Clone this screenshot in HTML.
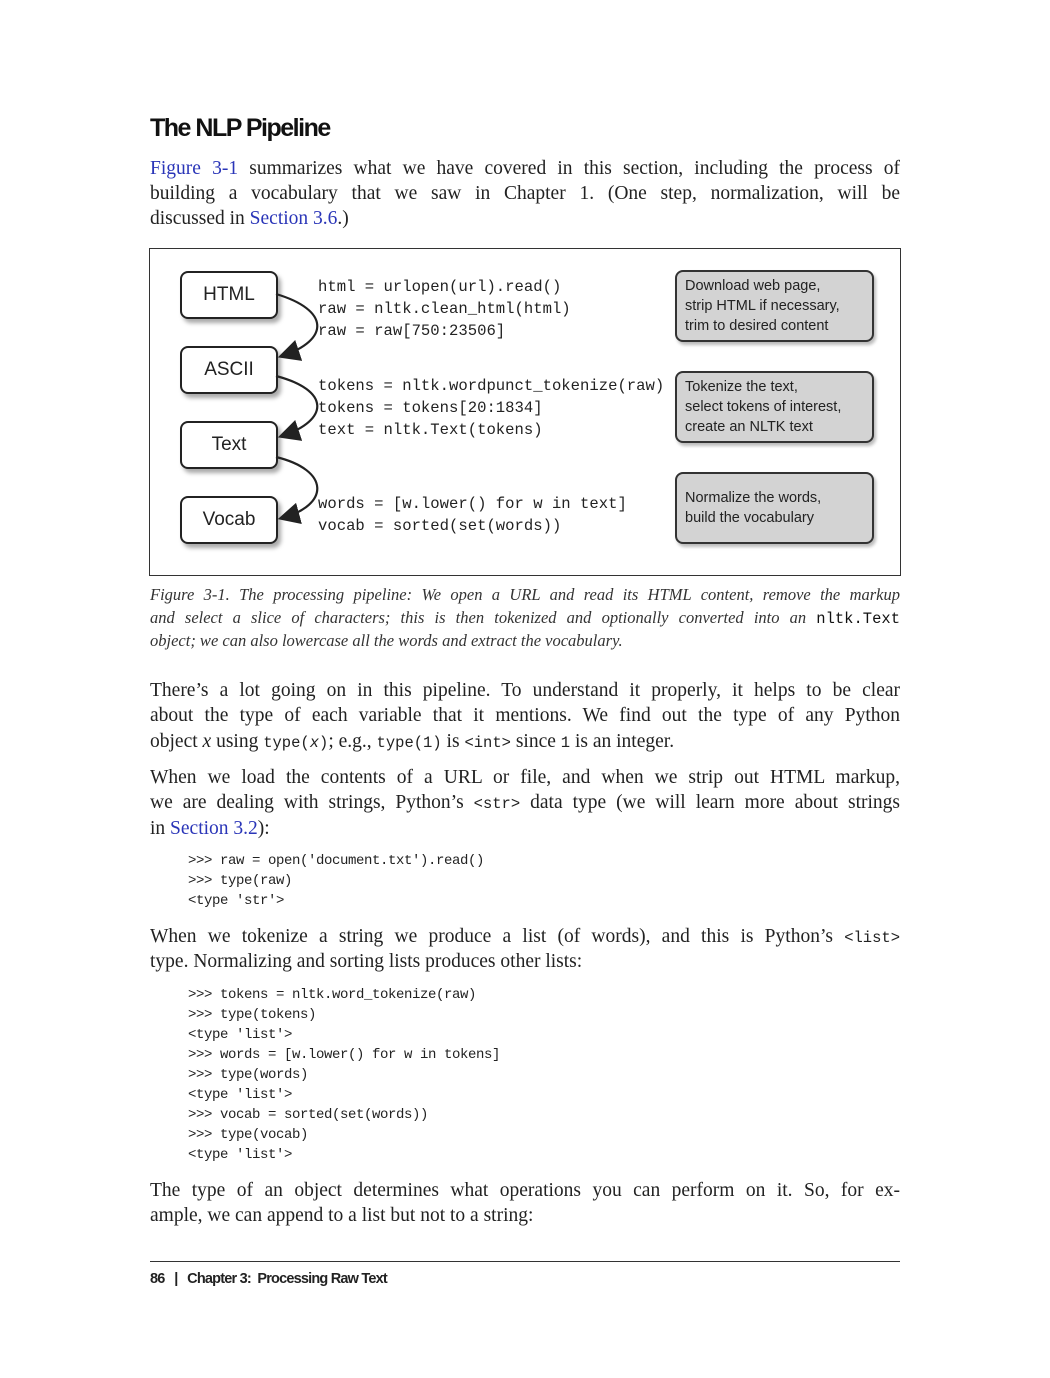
<!DOCTYPE html>
<html><head><style>
body{margin:0;background:#fff;width:1050px;height:1378px;position:relative;overflow:hidden;font-family:"Liberation Serif",serif;color:#222}
.l{position:absolute;left:150px;width:750px;font-size:19.5px;line-height:24px;white-space:nowrap}
.j{text-align:justify;text-align-last:justify}
a{color:#2a35b8;text-decoration:none}
.m{font-family:"Liberation Mono",monospace;font-size:15.5px}
.c{position:absolute;left:188px;font-family:"Liberation Mono",monospace;font-size:14px;letter-spacing:-0.4px;line-height:20px;white-space:pre;color:#222}
.cap{position:absolute;left:150px;width:750px;font-style:italic;font-size:16.5px;line-height:23px;white-space:nowrap;color:#333}
.box{position:absolute;left:180px;width:94px;height:44px;border:2px solid #222;border-radius:8px;background:#fff;box-shadow:3px 4px 4px #aaa;font-family:"Liberation Sans",sans-serif;font-size:19px;text-align:center;line-height:44px;color:#222}
.gb{position:absolute;left:675px;width:199px;border:2px solid #333;border-radius:8px;background:#d3d3d3;font-family:"Liberation Sans",sans-serif;font-size:14.5px;line-height:20px;padding:4px 8px;box-sizing:border-box;color:#222;box-shadow:2px 3px 3px #bbb}
.code{position:absolute;left:318px;font-family:"Liberation Mono",monospace;font-size:15.6px;line-height:22px;white-space:pre;color:#222}
</style></head><body>
<div style="position:absolute;left:150px;top:114px;font-family:'Liberation Sans',sans-serif;font-weight:bold;font-size:25px;letter-spacing:-1.5px;color:#111">The NLP Pipeline</div>
<div class="l j" style="top:157px"><a>Figure 3-1</a> summarizes what we have covered in this section, including the process of</div>
<div class="l j" style="top:182px">building a vocabulary that we saw in Chapter 1. (One step, normalization, will be</div>
<div class="l" style="top:207px">discussed in <a>Section 3.6</a>.)</div>

<div style="position:absolute;left:149px;top:248px;width:750px;height:326px;border:1px solid #333"></div>
<div class="box" style="top:271px">HTML</div>
<div class="box" style="top:346px">ASCII</div>
<div class="box" style="top:421px">Text</div>
<div class="box" style="top:496px">Vocab</div>
<svg style="position:absolute;left:0;top:0" width="1050" height="1378">
<defs><marker id="a" markerWidth="10" markerHeight="10" refX="8" refY="5" orient="auto"><path d="M0,0 L10,5 L0,10 z" fill="#222"/></marker></defs>
<g fill="none" stroke="#222" stroke-width="2.2">
<path d="M276,294 C330,310 330,340 282,356" marker-end="url(#a)"/>
<path d="M276,376 C330,390 330,420 282,436" marker-end="url(#a)"/>
<path d="M276,457 C330,470 330,505 282,518" marker-end="url(#a)"/>
</g></svg>
<div class="code" style="top:276px">html = urlopen(url).read()
raw = nltk.clean_html(html)
raw = raw[750:23506]</div>
<div class="code" style="top:375px">tokens = nltk.wordpunct_tokenize(raw)
tokens = tokens[20:1834]
text = nltk.Text(tokens)</div>
<div class="code" style="top:493px">words = [w.lower() for w in text]
vocab = sorted(set(words))</div>
<div class="gb" style="top:270px;height:72px">Download web page,<br>strip HTML if necessary,<br>trim to desired content</div>
<div class="gb" style="top:371px;height:72px">Tokenize the text,<br>select tokens of interest,<br>create an NLTK text</div>
<div class="gb" style="top:472px;height:72px;padding-top:14px">Normalize the words,<br>build the vocabulary</div>

<div class="cap j" style="top:583px">Figure 3-1. The processing pipeline: We open a URL and read its HTML content, remove the markup</div>
<div class="cap j" style="top:606px">and select a slice of characters; this is then tokenized and optionally converted into an <span class="m" style="font-style:normal;color:#111">nltk.Text</span></div>
<div class="cap" style="top:629px">object; we can also lowercase all the words and extract the vocabulary.</div>

<div class="l j" style="top:679px">There’s a lot going on in this pipeline. To understand it properly, it helps to be clear</div>
<div class="l j" style="top:704px">about the type of each variable that it mentions. We find out the type of any Python</div>
<div class="l" style="top:730px">object <i>x</i> using <span class="m">type(<i>x</i>)</span>; e.g., <span class="m">type(1)</span> is <span class="m">&lt;int&gt;</span> since <span class="m">1</span> is an integer.</div>
<div class="l j" style="top:766px">When we load the contents of a URL or file, and when we strip out HTML markup,</div>
<div class="l j" style="top:791px">we are dealing with strings, Python’s <span class="m">&lt;str&gt;</span> data type (we will learn more about strings</div>
<div class="l" style="top:817px">in <a>Section 3.2</a>):</div>
<div class="c" style="top:851px">&gt;&gt;&gt; raw = open('document.txt').read()
&gt;&gt;&gt; type(raw)
&lt;type 'str'&gt;</div>
<div class="l j" style="top:925px">When we tokenize a string we produce a list (of words), and this is Python’s <span class="m">&lt;list&gt;</span></div>
<div class="l" style="top:950px">type. Normalizing and sorting lists produces other lists:</div>
<div class="c" style="top:985px">&gt;&gt;&gt; tokens = nltk.word_tokenize(raw)
&gt;&gt;&gt; type(tokens)
&lt;type 'list'&gt;
&gt;&gt;&gt; words = [w.lower() for w in tokens]
&gt;&gt;&gt; type(words)
&lt;type 'list'&gt;
&gt;&gt;&gt; vocab = sorted(set(words))
&gt;&gt;&gt; type(vocab)
&lt;type 'list'&gt;</div>
<div class="l j" style="top:1179px">The type of an object determines what operations you can perform on it. So, for ex-</div>
<div class="l" style="top:1204px">ample, we can append to a list but not to a string:</div>
<div style="position:absolute;left:150px;top:1261px;width:750px;border-top:1px solid #333"></div>
<div style="position:absolute;left:150px;top:1271px;font-family:'Liberation Sans',sans-serif;font-weight:bold;font-size:14.5px;letter-spacing:-0.8px;color:#222">86 &nbsp;&nbsp;| &nbsp;&nbsp;Chapter 3: &nbsp;Processing Raw Text</div>
</body></html>
